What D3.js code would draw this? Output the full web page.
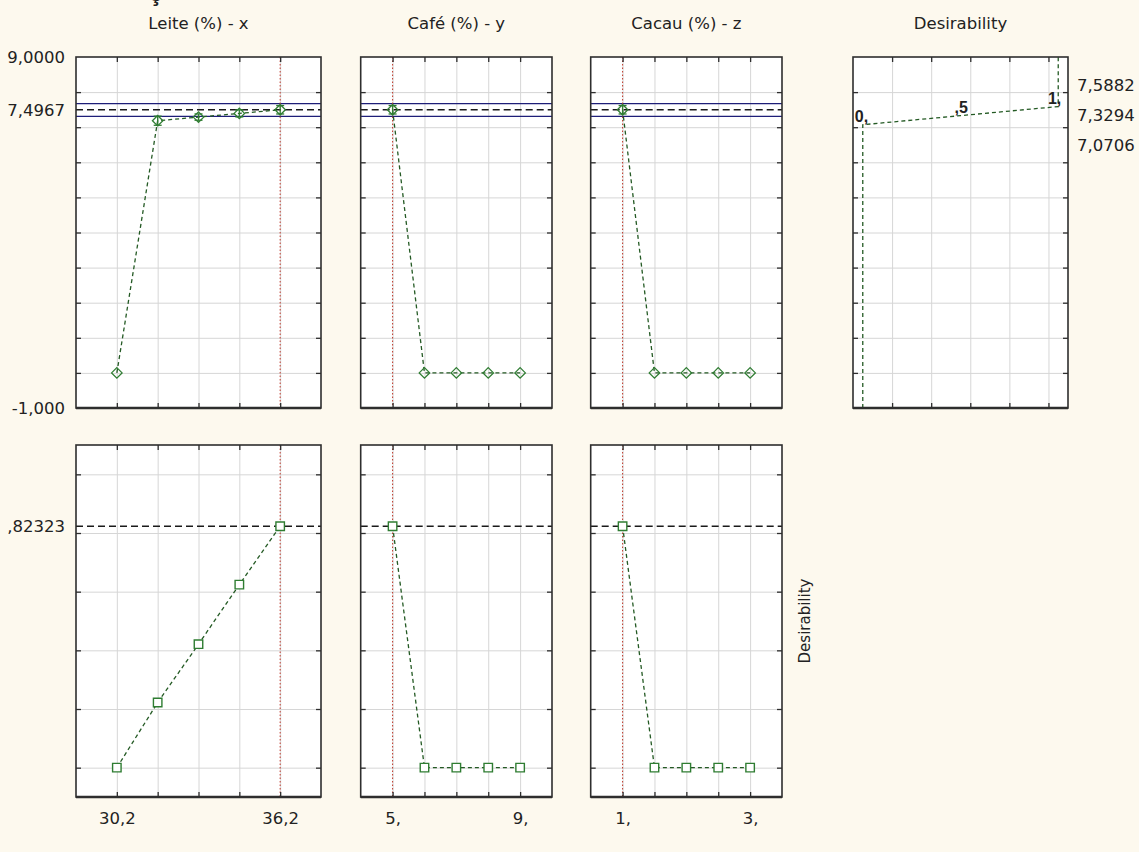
<!DOCTYPE html>
<html><head><meta charset="utf-8">
<script src="https://cdn.jsdelivr.net/npm/d3@7"></script>
<style>
html,body{margin:0;padding:0;background:#fdf9ee;}
svg{display:block;}
text{font-family:"DejaVu Sans",sans-serif;fill:#222;}
</style></head><body>
<svg id="chart" width="1139" height="852"></svg>
<script>
// ---- factor levels ----
const leiteLevels = [30.2, 31.7, 33.2, 34.7, 36.2];
const cafeLevels  = [5, 6, 7, 8, 9];
const cacauLevels = [1, 1.5, 2, 2.5, 3];
const factorTitles = ["Leite (%) - x", "Café (%) - y", "Cacau (%) - z"];
const factorTickValues = [[30.2, 36.2], [5, 9], [1, 3]];
const factorTickLabels = [["30,2", "36,2"], ["5,", "9,"], ["1,", "3,"]];
const currentSettings = [36.2, 5, 1];

// ---- predicted response profiles (top row) ----
const respLeite = [0.0, 7.185, 7.288, 7.393, 7.4967];
const respCafe  = [7.4967, 0.0, 0.0, 0.0, 0.0];
const respCacau = [7.4967, 0.0, 0.0, 0.0, 0.0];
const errLeite  = [0.0, 0.13, 0.09, 0.10, 0.12];
const errCafe   = [0.12, 0.0, 0.0, 0.0, 0.0];
const errCacau  = [0.12, 0.0, 0.0, 0.0, 0.0];
const predicted = 7.4967;
const ciBounds = [7.31, 7.67];
const respTickValues = [9, 7.4967, -1];
const respTickLabels = ["9,0000", "7,4967", "-1,000"];

// ---- desirability profiles (bottom row) ----
const desLeite = [0.0, 0.222, 0.421, 0.624, 0.82323];
const desCafe  = [0.82323, 0.0, 0.0, 0.0, 0.0];
const desCacau = [0.82323, 0.0, 0.0, 0.0, 0.0];
const overallDesirability = 0.82323;
const desTickValues = [0.82323];
const desTickLabels = [",82323"];

// ---- desirability function of the response ----
const desFnDesirability = [0, 0, 0.5, 1, 1];
const desFnResponse     = [-1, 7.0706, 7.3294, 7.5882, 9];
const desFnPointLabels  = ["0,", ",5", "1,"];
const desFnRightLabels  = ["7,5882", "7,3294", "7,0706"];

// ---- layout ----
const cols = [[76, 321], [360.7, 552], [590.7, 782], [853, 1068]];
const rows = [[408, 57], [797, 445]];
const C = {grid: "#d6d6d6", frame: "#2e2e2e", green: "#2f7d32", line: "#245a24",
           blue: "#1e1e78", red: "#c0392b", dash: "#1a1a1a"};

const svg = d3.select("#chart");
const levels = [leiteLevels, cafeLevels, cacauLevels];
const respSeries = [respLeite, respCafe, respCacau];
const errSeries = [errLeite, errCafe, errCacau];
const desSeries = [desLeite, desCafe, desCacau];

const xScales = levels.map((lv, i) => {
  const step = lv[1] - lv[0];
  return d3.scaleLinear().domain([lv[0] - step, lv[lv.length - 1] + step]).range(cols[i]);
});
const yResp = d3.scaleLinear().domain([-1, 9]).range(rows[0]);
const yDes = d3.scaleLinear().domain([-0.1, 1.1]).range(rows[1]);
const xDesFn = d3.scaleLinear().domain([-0.05, 1.05]).range(cols[3]);
const desFnGrid = [0.15, 0.35, 0.55, 0.75, 0.95];
const respGrid = d3.range(0, 9, 1);
const desGrid = [0, 0.2, 0.4, 0.6, 0.8, 1.0];

const frames = [];
function panel(x, y, xGrid, yGrid) {
  const [x0, x1] = x.range();
  const [yb, yt] = y.range();
  const g = svg.append("g");
  g.append("rect").attr("x", x0).attr("y", yt).attr("width", x1 - x0).attr("height", yb - yt).attr("fill", "#fff");
  const clean = s => { s.select(".domain").remove(); };
  g.append("g").attr("transform", `translate(0,${yb})`)
    .call(d3.axisBottom(x).tickValues(xGrid).tickSize(-(yb - yt)).tickFormat(""))
    .call(clean).call(s => s.selectAll("line").attr("stroke", C.grid));
  g.append("g").attr("transform", `translate(${x0},0)`)
    .call(d3.axisLeft(y).tickValues(yGrid).tickSize(-(x1 - x0)).tickFormat(""))
    .call(clean).call(s => s.selectAll("line").attr("stroke", C.grid));
  frames.push({x0, x1, yt, yb, x, y, xGrid, yGrid});
  return g;
}
function drawFrames() {
  frames.forEach(f => {
    const g = svg.append("g");
    const clean = s => { s.select(".domain").remove(); s.selectAll("line").attr("stroke", C.frame).attr("stroke-width", 1.3); };
    g.append("g").attr("transform", `translate(0,${f.yb})`).call(d3.axisBottom(f.x).tickValues(f.xGrid).tickSize(-5).tickFormat("")).call(clean);
    g.append("g").attr("transform", `translate(0,${f.yt})`).call(d3.axisTop(f.x).tickValues(f.xGrid).tickSize(-5).tickFormat("")).call(clean);
    g.append("g").attr("transform", `translate(${f.x0},0)`).call(d3.axisLeft(f.y).tickValues(f.yGrid).tickSize(-5).tickFormat("")).call(clean);
    g.append("g").attr("transform", `translate(${f.x1},0)`).call(d3.axisRight(f.y).tickValues(f.yGrid).tickSize(-5).tickFormat("")).call(clean);
    g.append("rect").attr("x", f.x0).attr("y", f.yt).attr("width", f.x1 - f.x0).attr("height", f.yb - f.yt)
      .attr("fill", "none").attr("stroke", C.frame).attr("stroke-width", 1.6);
    g.append("line").attr("x1", f.x0).attr("x2", f.x1).attr("y1", f.yb).attr("y2", f.yb)
      .attr("stroke", C.frame).attr("stroke-width", 2.4);
  });
}

const diamond = d3.symbol().type(d3.symbolDiamond2).size(70);
const square = d3.symbol().type(d3.symbolSquare).size(72);

// ---- factor columns ----
levels.forEach((lv, i) => {
  const x = xScales[i];
  const [x0, x1] = x.range();

  // top row: response
  const gt = panel(x, yResp, lv, respGrid);
  ciBounds.forEach(v => gt.append("line").attr("x1", x0).attr("x2", x1).attr("y1", yResp(v)).attr("y2", yResp(v))
    .attr("stroke", C.blue).attr("stroke-width", 1.3));
  gt.append("line").attr("x1", x0).attr("x2", x1).attr("y1", yResp(predicted)).attr("y2", yResp(predicted))
    .attr("stroke", C.dash).attr("stroke-width", 1.5).attr("stroke-dasharray", "7,4");
  gt.append("line").attr("x1", x(currentSettings[i])).attr("x2", x(currentSettings[i]))
    .attr("y1", yResp.range()[1]).attr("y2", yResp.range()[0])
    .attr("stroke", C.red).attr("stroke-width", 1).attr("stroke-dasharray", "1.5,2");
  const ptsT = lv.map((v, k) => [v, respSeries[i][k], errSeries[i][k]]);
  gt.append("path").datum(ptsT).attr("fill", "none").attr("stroke", C.line).attr("stroke-width", 1.3)
    .attr("stroke-dasharray", "4,3").attr("d", d3.line().x(d => x(d[0])).y(d => yResp(d[1])));
  ptsT.filter(d => d[2] > 0).forEach(d => {
    const px = x(d[0]), ya = yResp(d[1] - d[2]), yb2 = yResp(d[1] + d[2]);
    gt.append("line").attr("x1", px).attr("x2", px).attr("y1", ya).attr("y2", yb2).attr("stroke", C.green).attr("stroke-width", 1.3);
    [ya, yb2].forEach(yy => gt.append("line").attr("x1", px - 4).attr("x2", px + 4).attr("y1", yy).attr("y2", yy)
      .attr("stroke", C.green).attr("stroke-width", 1.3));
  });
  gt.selectAll(".mk").data(ptsT).join("path").attr("d", diamond)
    .attr("transform", d => `translate(${x(d[0])},${yResp(d[1])})`)
    .attr("fill", "none").attr("stroke", C.green).attr("stroke-width", 1.3);

  // bottom row: desirability
  const gb = panel(x, yDes, lv, desGrid);
  gb.append("line").attr("x1", x0).attr("x2", x1).attr("y1", yDes(overallDesirability)).attr("y2", yDes(overallDesirability))
    .attr("stroke", C.dash).attr("stroke-width", 1.5).attr("stroke-dasharray", "7,4");
  gb.append("line").attr("x1", x(currentSettings[i])).attr("x2", x(currentSettings[i]))
    .attr("y1", yDes.range()[1]).attr("y2", yDes.range()[0])
    .attr("stroke", C.red).attr("stroke-width", 1).attr("stroke-dasharray", "1.5,2");
  const ptsB = lv.map((v, k) => [v, desSeries[i][k]]);
  gb.append("path").datum(ptsB).attr("fill", "none").attr("stroke", C.line).attr("stroke-width", 1.3)
    .attr("stroke-dasharray", "4,3").attr("d", d3.line().x(d => x(d[0])).y(d => yDes(d[1])));
  gb.selectAll(".sq").data(ptsB).join("path").attr("d", square)
    .attr("transform", d => `translate(${x(d[0])},${yDes(d[1])})`)
    .attr("fill", "#fff").attr("stroke", C.green).attr("stroke-width", 1.4);

  // titles
  svg.append("text").attr("x", (x0 + x1) / 2).attr("y", 29).attr("text-anchor", "middle")
    .style("font-size", "16.5px").text(factorTitles[i]);
  // bottom tick labels
  svg.append("g").attr("transform", `translate(0,${yDes.range()[0]})`)
    .call(d3.axisBottom(x).tickValues(factorTickValues[i]).tickSize(0).tickPadding(15.5)
      .tickFormat((d, k) => factorTickLabels[i][k]))
    .call(s => { s.select(".domain").remove(); s.selectAll("text").style("font-size", "16.5px").attr("font-family", "DejaVu Sans").attr("fill", "#222"); });
});

// left axis labels
svg.append("g").attr("transform", `translate(${cols[0][0]},0)`)
  .call(d3.axisLeft(yResp).tickValues(respTickValues).tickSize(0).tickPadding(11)
    .tickFormat((d, k) => respTickLabels[k]))
  .call(s => { s.select(".domain").remove(); s.selectAll("text").style("font-size", "16.5px").attr("font-family", "DejaVu Sans").attr("fill", "#222"); });
svg.append("g").attr("transform", `translate(${cols[0][0]},0)`)
  .call(d3.axisLeft(yDes).tickValues(desTickValues).tickSize(0).tickPadding(11)
    .tickFormat((d, k) => desTickLabels[k]))
  .call(s => { s.select(".domain").remove(); s.selectAll("text").style("font-size", "16.5px").attr("font-family", "DejaVu Sans").attr("fill", "#222"); });

// ---- desirability function panel ----
const gd = panel(xDesFn, yResp, desFnGrid, respGrid);
const desFnPts = desFnDesirability.map((d, k) => [d, desFnResponse[k]]);
gd.append("path").datum(desFnPts).attr("fill", "none").attr("stroke", C.line).attr("stroke-width", 1.3)
  .attr("stroke-dasharray", "4,3").attr("d", d3.line().x(d => xDesFn(d[0])).y(d => yResp(d[1])));
const labelPts = desFnPts.slice(1, 4);
const labelAnchors = ["start", "start", "end"];
const labelDx = [-8, -6, 3];
labelPts.forEach((p, k) => {
  gd.append("text").attr("x", xDesFn(p[0]) + labelDx[k]).attr("y", yResp(p[1]) - 3)
    .attr("text-anchor", labelAnchors[k])
    .style("font-family", "'Liberation Sans',Arial,sans-serif").style("font-weight", "bold").style("font-size", "16px")
    .text(desFnPointLabels[k]);
});
svg.append("text").attr("x", (cols[3][0] + cols[3][1]) / 2).attr("y", 29).attr("text-anchor", "middle")
  .style("font-size", "16.5px").text("Desirability");
desFnRightLabels.forEach((t, k) => {
  svg.append("text").attr("x", cols[3][1] + 9).attr("y", yResp.range()[1] + 28 + k * 30).attr("dy", "0.35em")
    .style("font-size", "16.5px").text(t);
});

// right-hand label of bottom row
svg.append("text").attr("transform", `translate(805,${(rows[1][0] + rows[1][1]) / 2}) rotate(-90)`)
  .attr("text-anchor", "middle").attr("dy", "0.35em").style("font-size", "15px").text("Desirability");

drawFrames();

// glyph clipped by the top edge (remnant of a title above the visible area, as in the reference)
svg.append("text").attr("x", 149).attr("y", 1).style("font-weight", "bold").style("font-size", "24px")
  .style("font-family", "'Liberation Sans',Arial,sans-serif").text("ç");
</script></body></html>
